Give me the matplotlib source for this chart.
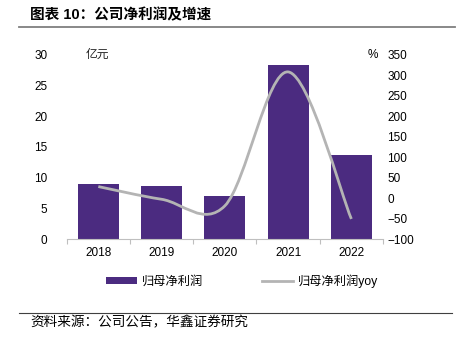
import matplotlib
matplotlib.use("Agg")
import matplotlib.pyplot as plt
import numpy as np
from matplotlib.path import Path
from matplotlib.patches import PathPatch, Patch
from matplotlib.lines import Line2D

plt.rcParams['font.family'] = ['Liberation Sans', 'Noto Sans CJK SC', 'DejaVu Sans']

years = ['2018', '2019', '2020', '2021', '2022']
profit = [8.95, 8.7, 7.05, 28.4, 13.6]
yoy = [28, -3, -19, 308, -51]
left_ticks = [0, 5, 10, 15, 20, 25, 30]
right_ticks = [-100, -50, 0, 50, 100, 150, 200, 250, 300, 350]

bar_color = '#4B2B80'
line_color = '#B4B4B4'
cjk = ['Noto Sans CJK SC', 'DejaVu Sans']
lat_cjk = ['Liberation Sans', 'Noto Sans CJK SC', 'DejaVu Sans']

fig = plt.figure(figsize=(4.57, 3.37), dpi=100)
ax = fig.add_axes([66.7/457, 98/337, (383-66.7)/457, (239.3-55)/337])
x = np.arange(len(years))
ax.bar(x, profit, width=0.65, color=bar_color, zorder=2)
ax.set_xlim(-0.5, len(years) - 0.5)
ax.set_ylim(0, 30)
ax.set_yticks(left_ticks)
ax.set_xticks(x)
ax.set_xticklabels(years)
ax.set_xticks(np.arange(-0.5, len(years), 1.0), minor=True)
ax.tick_params(axis='x', which='major', length=0, labelsize=8.5, pad=6)
ax.tick_params(axis='x', which='minor', length=3.5, color='#BFBFBF', width=0.8)
ax.tick_params(axis='y', length=0, labelsize=8.5, pad=14)
for s in ['top', 'right', 'left']:
    ax.spines[s].set_visible(False)
ax.spines['bottom'].set_color('#BFBFBF')
ax.spines['bottom'].set_linewidth(0.8)

ax2 = ax.twinx()
ax2.set_ylim(-100, 350)
ax2.set_yticks(right_ticks)
ax2.set_yticklabels([str(t).replace('-', '\u2212') for t in right_ticks])
ax2.tick_params(axis='y', length=0, labelsize=8.5, pad=3)
for s in ['top', 'right', 'left', 'bottom']:
    ax2.spines[s].set_visible(False)

# smoothed line (Catmull-Rom style bezier through the data points)
pts = np.column_stack([x.astype(float), np.array(yoy, dtype=float)])
verts = [tuple(pts[0])]
codes = [Path.MOVETO]
n = len(pts)
for i in range(n - 1):
    p0 = pts[i - 1] if i > 0 else pts[i]
    p1 = pts[i]
    p2 = pts[i + 1]
    p3 = pts[i + 2] if i + 2 < n else pts[i + 1]
    c1 = p1 + (p2 - p0) / 6.0
    c2 = p2 - (p3 - p1) / 6.0
    verts += [tuple(c1), tuple(c2), tuple(p2)]
    codes += [Path.CURVE4] * 3
ax2.add_patch(PathPatch(Path(verts, codes), facecolor='none', edgecolor=line_color,
                        lw=2.0, capstyle='butt', zorder=3))

ax.text(0.06, 1.0, '亿元', transform=ax.transAxes, fontsize=8.5, family=cjk,
        ha='left', va='center', color='#222222')
ax2.text(0.985, 1.0, '%', transform=ax.transAxes, fontsize=8.5,
         ha='right', va='center')

handles = [Patch(facecolor=bar_color, edgecolor='none'),
           Line2D([0], [0], color=line_color, lw=2.0)]
fs_leg = 8.8
em = fs_leg * 100 / 72
leg = fig.legend(handles, ['归母净利润', '归母净利润yoy'], loc='center left',
                 bbox_to_anchor=(106/457, 1 - 281/337), ncol=2, frameon=False,
                 prop={'family': lat_cjk, 'size': fs_leg}, handlelength=31/em,
                 handleheight=0.42, columnspacing=59/em, handletextpad=5/em,
                 borderpad=0, borderaxespad=0)

fig.text(30/457, 1 - 15/337, '图表 10：公司净利润及增速', family=lat_cjk, fontsize=10.5,
         fontweight='bold', ha='left', va='center')
fig.add_artist(Line2D([19/457, 455/457], [1 - 27/337, 1 - 27/337], color='#7F7F7F', lw=1.3))
fig.add_artist(Line2D([19/457, 452/457], [1 - 312.5/337, 1 - 312.5/337], color='#404040', lw=0.8))
fig.text(30/457, 1 - 322/337, '资料来源：公司公告，华鑫证券研究', family=cjk, fontsize=9.8,
         ha='left', va='center')

fig.savefig('out.png', dpi=100)
